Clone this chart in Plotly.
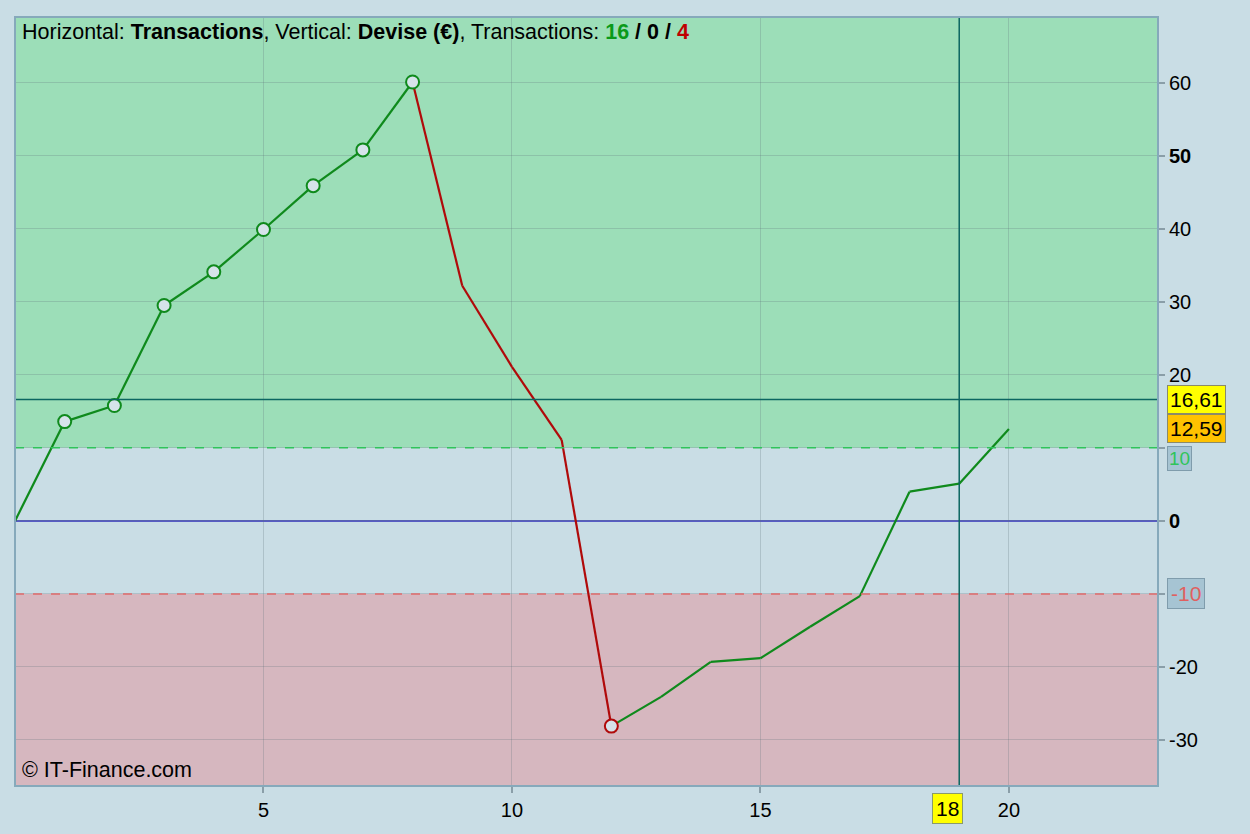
import plotly.graph_objects as go

# ---- data ----
trade_no = list(range(0, 21))
equity = [0, 13.6, 15.8, 29.5, 34.1, 39.9, 45.9, 50.8, 60.1, 32.2, 21.1, 11.1,
          -28.1, -24.1, -19.3, -18.8, -14.5, -10.3, 4.0, 5.1, 12.59]
marker_idx = [1, 2, 3, 4, 5, 6, 7, 8, 12]
upper_level = 10
lower_level = -10
cursor_y = 16.61
cursor_x = 19
cursor_x_label = "18"
last_value_label = "12,59"
cursor_y_label = "16,61"
x_ticks = [5, 10, 15, 20]
y_ticks = [-30, -20, -10, 0, 10, 20, 30, 40, 50, 60]
y_ticktext = ["-30", "-20", "", "<b>0</b>", "", "20", "30", "40", "<b>50</b>", "60"]
wins, evens, losses = 16, 0, 4

GREEN = "#0f8a1c"
RED = "#b00a0a"
XR = [0, 23]
YR = [-36.3, 69.0]

fig = go.Figure()

# segments coloured by direction
gx, gy, rx, ry = [], [], [], []
for i in range(1, len(equity)):
    if equity[i] >= equity[i - 1]:
        gx += [trade_no[i - 1], trade_no[i], None]
        gy += [equity[i - 1], equity[i], None]
    else:
        rx += [trade_no[i - 1], trade_no[i], None]
        ry += [equity[i - 1], equity[i], None]

fig.add_trace(go.Scatter(x=gx, y=gy, mode="lines", line=dict(color=GREEN, width=2.2),
                         hoverinfo="skip", showlegend=False))
fig.add_trace(go.Scatter(x=rx, y=ry, mode="lines", line=dict(color=RED, width=2.2),
                         hoverinfo="skip", showlegend=False))
mcol = [RED if equity[i] < equity[i - 1] else GREEN for i in marker_idx]
fig.add_trace(go.Scatter(x=[trade_no[i] for i in marker_idx], y=[equity[i] for i in marker_idx],
                         mode="markers",
                         marker=dict(size=13, color="#d6e3ea", line=dict(color=mcol, width=2)),
                         hoverinfo="skip", showlegend=False))

shapes = [
    dict(type="rect", xref="x", yref="y", x0=XR[0], x1=XR[1], y0=upper_level, y1=YR[1],
         fillcolor="#9cdeb8", line_width=0, layer="below"),
    dict(type="rect", xref="x", yref="y", x0=XR[0], x1=XR[1], y0=YR[0], y1=lower_level,
         fillcolor="#d6b7bf", line_width=0, layer="below"),
    dict(type="line", xref="x", yref="y", x0=XR[0], x1=XR[1], y0=upper_level, y1=upper_level,
         line=dict(color="#2fc45a", width=1.5, dash="dash")),
    dict(type="line", xref="x", yref="y", x0=XR[0], x1=XR[1], y0=lower_level, y1=lower_level,
         line=dict(color="#e06b6b", width=1.5, dash="dash")),
    dict(type="line", xref="x", yref="y", x0=XR[0], x1=XR[1], y0=0, y1=0,
         line=dict(color="#3030b8", width=1.5), layer="below"),
    dict(type="line", xref="x", yref="y", x0=XR[0], x1=XR[1], y0=cursor_y, y1=cursor_y,
         line=dict(color="#0b6660", width=1.5)),
    dict(type="line", xref="x", yref="y", x0=cursor_x, x1=cursor_x, y0=YR[0], y1=YR[1],
         line=dict(color="#0b6660", width=1.5)),
    dict(type="rect", xref="paper", yref="paper", x0=0, x1=1, y0=0, y1=1,
         line=dict(color="#86a9bb", width=2)),
]

ann = [
    dict(xref="paper", yref="paper", x=0.004, y=0.999, xanchor="left", yanchor="top",
         showarrow=False, align="left",
         text=("Horizontal: <b>Transactions</b>, Vertical: <b>Devise (€)</b>, Transactions: "
               f"<b><span style='color:#0a9a1a'>{wins}</span> / {evens} / "
               f"<span style='color:#c00000'>{losses}</span></b>"),
         font=dict(size=21.5, color="#000")),
    dict(xref="paper", yref="paper", x=0.004, y=0.002, xanchor="left", yanchor="bottom",
         showarrow=False, text="© IT-Finance.com", font=dict(size=21.5, color="#000")),
    dict(xref="paper", yref="y", x=1.008, y=upper_level, xanchor="left", yanchor="top",
         yshift=2, showarrow=False, text="10", font=dict(size=19, color="#2fc45a"),
         bgcolor="#a6c4d3", bordercolor="#7f9cac", borderwidth=1, borderpad=1),
    dict(xref="paper", yref="y", x=1.008, y=lower_level, xanchor="left", yanchor="middle",
         showarrow=False, text="-10", font=dict(size=21, color="#e06060"),
         bgcolor="#a6c4d3", bordercolor="#7f9cac", borderwidth=1, borderpad=3),
    dict(xref="paper", yref="y", x=1.008, y=equity[-1], xanchor="left", yanchor="middle",
         showarrow=False, text=last_value_label, font=dict(size=21, color="#000"),
         bgcolor="#ffc200", bordercolor="#8a8a6a", borderwidth=1, borderpad=2),
    dict(xref="paper", yref="y", x=1.008, y=cursor_y, xanchor="left", yanchor="middle",
         showarrow=False, text=cursor_y_label, font=dict(size=21, color="#000"),
         bgcolor="#ffff00", bordercolor="#8a8a6a", borderwidth=1, borderpad=2),
    dict(xref="x", yref="paper", x=18.76, y=-0.009, xanchor="center", yanchor="top",
         showarrow=False, text=cursor_x_label, font=dict(size=21, color="#000"),
         bgcolor="#ffff00", bordercolor="#8a9a6a", borderwidth=1, borderpad=3),
]

fig.update_layout(
    width=1250, height=834,
    margin=dict(l=15, r=92, t=17, b=48),
    paper_bgcolor="#c9dde5",
    plot_bgcolor="#c9dde5",
    font=dict(family="Liberation Sans, Arial, sans-serif", size=20, color="#000"),
    shapes=shapes,
    annotations=ann,
    showlegend=False,
    xaxis=dict(range=XR, tickvals=x_ticks, showgrid=True, gridcolor="rgba(90,110,120,0.25)",
               gridwidth=1, zeroline=False, ticks="outside", ticklen=6, tickcolor="#8a9ea8",
               tickwidth=2, showline=False, tickfont=dict(size=20)),
    yaxis=dict(range=YR, side="right", tickvals=y_ticks, ticktext=y_ticktext,
               showgrid=True, gridcolor="rgba(90,110,120,0.25)", gridwidth=1, zeroline=False,
               ticks="outside", ticklen=6, tickcolor="#8a9ea8", tickwidth=2, showline=False,
               tickfont=dict(size=20)),
)

fig.write_html("out.html",
               config={"displayModeBar": False},
               post_script="document.body.style.margin='0px';"
                           "document.body.style.background='#c9dde5';")
